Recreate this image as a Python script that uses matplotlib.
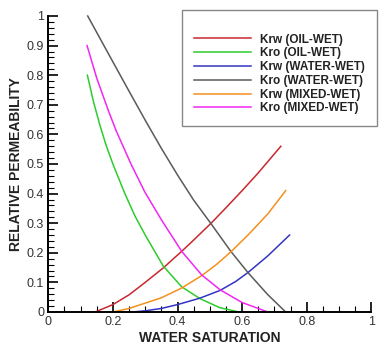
import numpy as np
import matplotlib
matplotlib.use('Agg')
import matplotlib.pyplot as plt
from matplotlib.ticker import MultipleLocator

plt.rcParams['font.family'] = ['Liberation Sans', 'DejaVu Sans']

# values
sw_krw_oil = [0.145, 0.20, 0.25, 0.30, 0.356, 0.413, 0.45, 0.504, 0.55, 0.60, 0.65, 0.72]
krw_oil = [0.0, 0.025, 0.058, 0.10, 0.149, 0.205, 0.243, 0.30, 0.352, 0.41, 0.47, 0.56]

sw_kro_oil = [0.121, 0.14, 0.16, 0.18, 0.20, 0.237, 0.268, 0.30, 0.356, 0.413, 0.47, 0.53, 0.59]
kro_oil = [0.80, 0.71, 0.63, 0.56, 0.50, 0.40, 0.325, 0.26, 0.155, 0.085, 0.045, 0.015, 0.0]

sw_krw_water = [0.26, 0.30, 0.35, 0.40, 0.47, 0.532, 0.58, 0.619, 0.68, 0.747]
krw_water = [0.0, 0.004, 0.012, 0.025, 0.047, 0.073, 0.103, 0.134, 0.19, 0.26]

sw_kro_water = [0.122, 0.20, 0.25, 0.30, 0.35, 0.40, 0.45, 0.504, 0.565, 0.619, 0.68, 0.735]
kro_water = [1.0, 0.845, 0.746, 0.648, 0.553, 0.463, 0.378, 0.298, 0.205, 0.132, 0.058, 0.0]

sw_krw_mixed = [0.20, 0.25, 0.30, 0.35, 0.413, 0.475, 0.52, 0.565, 0.62, 0.68, 0.735]
krw_mixed = [0.0, 0.012, 0.03, 0.048, 0.081, 0.123, 0.16, 0.203, 0.262, 0.332, 0.41]

sw_kro_mixed = [0.12, 0.15, 0.186, 0.211, 0.256, 0.299, 0.351, 0.413, 0.475, 0.532, 0.60, 0.68]
kro_mixed = [0.90, 0.79, 0.68, 0.61, 0.50, 0.405, 0.31, 0.205, 0.125, 0.075, 0.032, 0.0]

series = [
    (sw_krw_oil, krw_oil, 'Krw (OIL-WET)', '#c8282e'),
    (sw_kro_oil, kro_oil, 'Kro (OIL-WET)', '#2ecc2e'),
    (sw_krw_water, krw_water, 'Krw (WATER-WET)', '#3434c4'),
    (sw_kro_water, kro_water, 'Kro (WATER-WET)', '#5a5a5a'),
    (sw_krw_mixed, krw_mixed, 'Krw (MIXED-WET)', '#f5901e'),
    (sw_kro_mixed, kro_mixed, 'Kro (MIXED-WET)', '#f028f0'),
]

fig = plt.figure(figsize=(3.81, 3.48), dpi=100)
ax = fig.add_axes([48.3/381, 1 - 312/348, 323/381, 296/348])

for x, y, lab, col in series:
    ax.plot(x, y, color=col, lw=1.1, label=lab, clip_on=False)

ax.set_xlim(0, 1)
ax.set_ylim(0, 1)
ax.spines['top'].set_visible(False)
ax.spines['right'].set_visible(False)
ax.spines['left'].set_linewidth(1.4)
ax.spines['bottom'].set_linewidth(1.4)

ax.xaxis.set_major_locator(MultipleLocator(0.2))
ax.xaxis.set_minor_locator(MultipleLocator(0.05))
ax.yaxis.set_major_locator(MultipleLocator(0.1))
ax.yaxis.set_minor_locator(MultipleLocator(0.02))
ax.xaxis.set_major_formatter(plt.FuncFormatter(lambda v, p: f'{v:g}'))
ax.yaxis.set_major_formatter(plt.FuncFormatter(lambda v, p: f'{v:g}'))
ax.tick_params(which='major', direction='in', length=7, width=1.2, labelsize=9,
               labelcolor='#333333', pad=3)
ax.tick_params(which='minor', direction='in', length=4, width=0.8)

ax.set_xlabel('WATER SATURATION', fontsize=10, fontweight='bold', color='#222222', labelpad=2)
ax.set_ylabel('RELATIVE PERMEABILITY', fontsize=10, fontweight='bold', color='#222222', labelpad=3)

leg = ax.legend(loc='upper right', bbox_to_anchor=(377/381, 1 - 10/348),
                bbox_transform=fig.transFigure, borderaxespad=0,
                fancybox=False, framealpha=1,
                edgecolor='#888888', prop={'weight': 'bold', 'size': 8.5},
                title=' ', title_fontsize=8,
                handlelength=4.9, labelspacing=0.15, borderpad=1.0, handletextpad=0.75)
leg.get_frame().set_linewidth(1.0)
for t in leg.get_texts():
    t.set_color('#222222')

fig.savefig('out.png', dpi=100)
